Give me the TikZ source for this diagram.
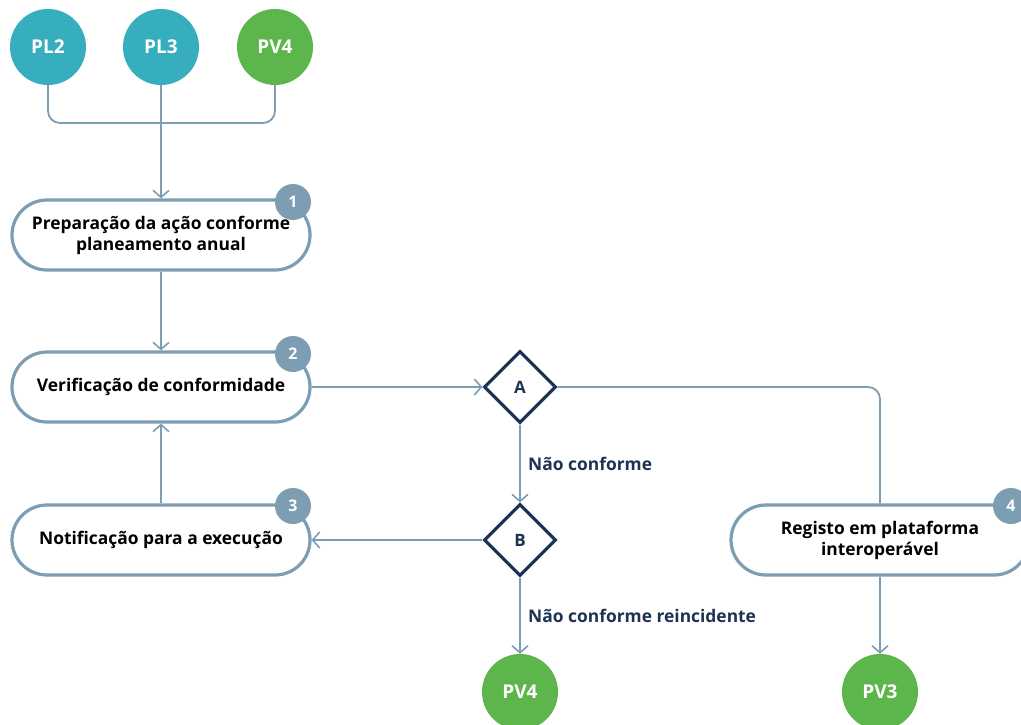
\documentclass[tikz,border=0pt]{standalone}
\usepackage{fontspec}
\setmainfont{Open Sans}
\usetikzlibrary{shapes.geometric,arrows.meta}
\definecolor{tealc}{HTML}{36AEBD}
\definecolor{greenc}{HTML}{5DB64B}
\definecolor{linec}{HTML}{7C9DB2}
\definecolor{navyc}{HTML}{1D3353}
\begin{document}
\begin{tikzpicture}
		    [x=1pt,y=-1pt,%%%%%%%%%%%%%%%%%%%%%%%%%%%%%%
		        ball/.style={circle,minimum size=76pt,inner sep=0pt,text=white,font=\bfseries\fontsize{19}{22}\selectfont},
		        stepbox/.style={rectangle,draw=linec,line width=3.2pt,fill=white,rounded corners=35pt,minimum width=298pt,minimum height=70pt,align=center,font=\bfseries\fontsize{17.4}{21}\selectfont},
		        badge/.style={circle,fill=linec,minimum size=36pt,inner sep=0pt,text=white,font=\bfseries\fontsize{16}{18}\selectfont},
		        decision/.style={diamond,draw=navyc,line width=3.2pt,fill=white,minimum width=72pt,minimum height=72pt,inner sep=0pt,text=navyc,font=\bfseries\fontsize{17}{19}\selectfont},
		        link/.style={draw=linec,line width=1.8pt,rounded corners=12pt},
		        arrow/.style={link,-{Straight Barb[length=7pt,width=16pt,line width=1.6pt]}},
		        lbl/.style={text=navyc,font=\bfseries\fontsize{17.4}{20}\selectfont},
		    ]%%%%%%%%%%%%%%%%%%%%%%%%%%%%%%
		\useasboundingbox (0,0) rectangle (1021,725);
		\node[ball, fill=tealc] (pl2) at (48,47) {PL2};
		\node[ball, fill=tealc] (pl3) at (161,47) {PL3};
		\node[ball, fill=greenc] (pv4top) at (275,47) {PV4};
		\coordinate (join) at (161,123);

		\node[stepbox] (box1) at (161,235) {Preparação da ação conforme\\planeamento anual};
		\node[stepbox] (box2) at (161,387) {Verificação de conformidade};
		\node[stepbox] (box3) at (161,540) {Notificação para a execução};
		\node[stepbox] (box4) at (880,540) {Registo em plataforma\\interoperável};

		\node[badge] (b1) at (293,202) {1};
		\node[badge] (b2) at (293,354) {2};
		\node[badge] (b3) at (293,506) {3};
		\node[badge] (b4) at (1011,506) {4};

		\node[decision] (dA) at (520,387) {A};
		\node[decision] (dB) at (520,540) {B};

		\node[ball, fill=greenc] (pv4) at (520,692) {PV4};
		\node[ball, fill=greenc] (pv3) at (880,692) {PV3};

		\draw[link] (pl2.south) |- (join) -| (pv4top.south);
		\draw[arrow] (pl3.south) -- (box1.north);
		\draw[arrow] (box1.south) -- (box2.north);
		\draw[arrow] (box3.north) -- (box2.south);
		\draw[arrow] (box2.east) -- (dA.west);
		\draw[link] (dA.east) -| (box4.north);
		\draw[arrow] (dA.south) -- node[lbl, midway, right=4pt] {Não conforme} (dB.north);
		\draw[arrow] (dB.west) -- (box3.east);
		\draw[arrow] (dB.south) -- node[lbl, midway, right=4pt] {Não conforme reincidente} (pv4.north);
		\draw[arrow] (box4.south) -- (pv3.north);

		\end{tikzpicture}
\end{document}
